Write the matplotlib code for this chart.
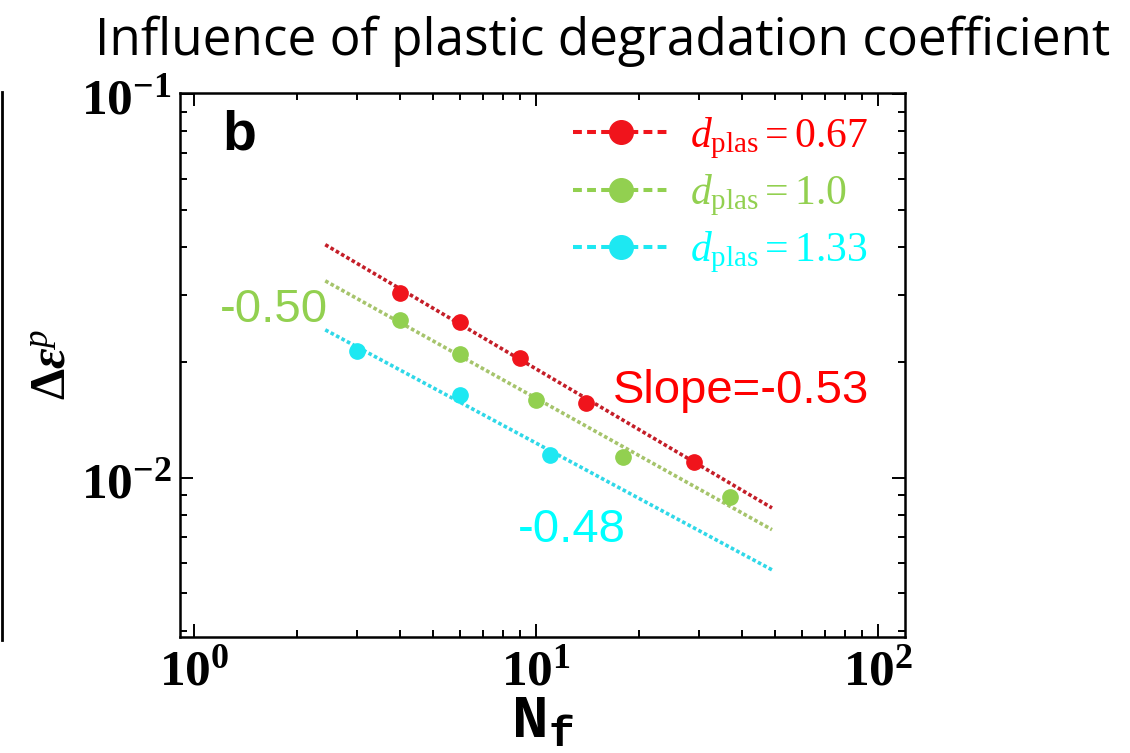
import matplotlib
matplotlib.use("Agg")
import matplotlib.pyplot as plt
from matplotlib.lines import Line2D
from matplotlib.ticker import LogLocator, FuncFormatter, NullFormatter
import numpy as np

plt.rcParams['mathtext.fontset'] = 'custom'
plt.rcParams['mathtext.rm'] = 'Liberation Serif'
plt.rcParams['mathtext.it'] = 'Liberation Serif:italic'
plt.rcParams['mathtext.bf'] = 'Liberation Serif:bold'
plt.rcParams['mathtext.bfit'] = 'Liberation Serif:italic:bold'
plt.rcParams['mathtext.tt'] = 'Liberation Mono:bold'

# ---- data ----
labels = [r'$d_{\rm plas}=0.67$', r'$d_{\rm plas}=1.0$', r'$d_{\rm plas}=1.33$']
nf_red = [4, 6, 9, 14, 29]
de_red = [0.0303, 0.0255, 0.0205, 0.0157, 0.0110]
nf_green = [4, 6, 10, 18, 37]
de_green = [0.0258, 0.0210, 0.0160, 0.0113, 0.0089]
nf_cyan = [3, 6, 11]
de_cyan = [0.0214, 0.0164, 0.0115]
fit_nf = [2.42, 49]
fit_red = [0.0405, 0.00835]
fit_green = [0.0326, 0.00733]
fit_cyan = [0.0243, 0.00576]
slope_texts = ['Slope=-0.53', '-0.50', '-0.48']

marker_colors = ['#f0141c', '#92d050', '#1de8f2']
line_colors = ['#c41e28', '#a6c46c', '#30d8e8']
text_colors = ['#ff0000', '#92d050', '#00ffff']

fig = plt.figure(figsize=(11.3, 7.53), dpi=100)
W, H = 1130, 753
ax = fig.add_axes([180 / W, 1 - 637 / H, 725 / W, 544 / H])
ax.set_xscale('log')
ax.set_yscale('log')
ax.set_xlim(0.91, 120)
ax.set_ylim(0.00385, 0.1006)

fits = [fit_red, fit_green, fit_cyan]
pts = [(nf_red, de_red), (nf_green, de_green), (nf_cyan, de_cyan)]
for i in range(3):
    ax.plot(fit_nf, fits[i], color=line_colors[i], lw=2.6, ls=(0, (1, 0.7)), zorder=2)
    ax.plot(pts[i][0], pts[i][1], ls='none', marker='o', ms=11, color=marker_colors[i],
            mec=marker_colors[i], zorder=3)

handles = [Line2D([], [], color=marker_colors[i], lw=2.9, dashes=(2.2, 1.3),
                  marker='o', ms=17) for i in range(3)]
leg = ax.legend(handles, labels, loc='upper left',
                bbox_to_anchor=((573 - 180) / 725, (637 - 114) / 544),
                frameon=False, fontsize=30, handlelength=2.3, handletextpad=0.5,
                labelspacing=0.25, borderpad=0, borderaxespad=0,
                labelcolor=text_colors)

# ticks
fmt = FuncFormatter(lambda v, p: r'$\mathbf{10^{%d}}$' % int(round(np.log10(v))))
ax.xaxis.set_major_locator(LogLocator(base=10, numticks=10))
ax.yaxis.set_major_locator(LogLocator(base=10, numticks=10))
ax.xaxis.set_minor_locator(LogLocator(base=10, subs=np.arange(2, 10), numticks=20))
ax.yaxis.set_minor_locator(LogLocator(base=10, subs=np.arange(2, 10), numticks=20))
ax.xaxis.set_major_formatter(fmt)
ax.yaxis.set_major_formatter(fmt)
ax.xaxis.set_minor_formatter(NullFormatter())
ax.yaxis.set_minor_formatter(NullFormatter())
ax.tick_params(which='both', direction='in', top=True, right=True, width=1.4, labelsize=37)
ax.tick_params(which='major', length=9.5, pad=6)
ax.tick_params(which='minor', length=5)
for s in ax.spines.values():
    s.set_linewidth(1.8)

ax.set_xlabel(r'$\mathtt{N_f}$', fontsize=44, labelpad=-3)
ax.set_ylabel(r'$\mathbf{\Delta}\mathbfit{\varepsilon}^{\mathit{p}}$', fontsize=36, labelpad=4)

def axf(px, py):
    return ((px - 180) / 725, (637 - py) / 544)

ax.text(*axf(222, 150), 'b', transform=ax.transAxes, fontsize=40, fontweight='bold',
        family='Liberation Sans', color='black', va='baseline', ha='left')
ax.text(*axf(613, 403), slope_texts[0], transform=ax.transAxes, fontsize=34,
        family='Liberation Sans', color=text_colors[0], va='baseline', ha='left')
ax.text(*axf(220, 322), slope_texts[1], transform=ax.transAxes, fontsize=34,
        family='Liberation Sans', color=text_colors[1], va='baseline', ha='left')
ax.text(*axf(518, 542), slope_texts[2], transform=ax.transAxes, fontsize=34,
        family='Liberation Sans', color=text_colors[2], va='baseline', ha='left')

fig.text(603 / W, 1 - 55 / H, 'Influence of plastic degradation coefficient',
         ha='center', va='baseline', fontsize=37, family='Open Sans', color='black')

# edge of neighbouring panel
fig.add_artist(Line2D([2 / W, 2 / W], [1 - 92 / H, 1 - 640 / H], color='black', lw=2,
                      transform=fig.transFigure))

fig.savefig('out.png', dpi=100)
